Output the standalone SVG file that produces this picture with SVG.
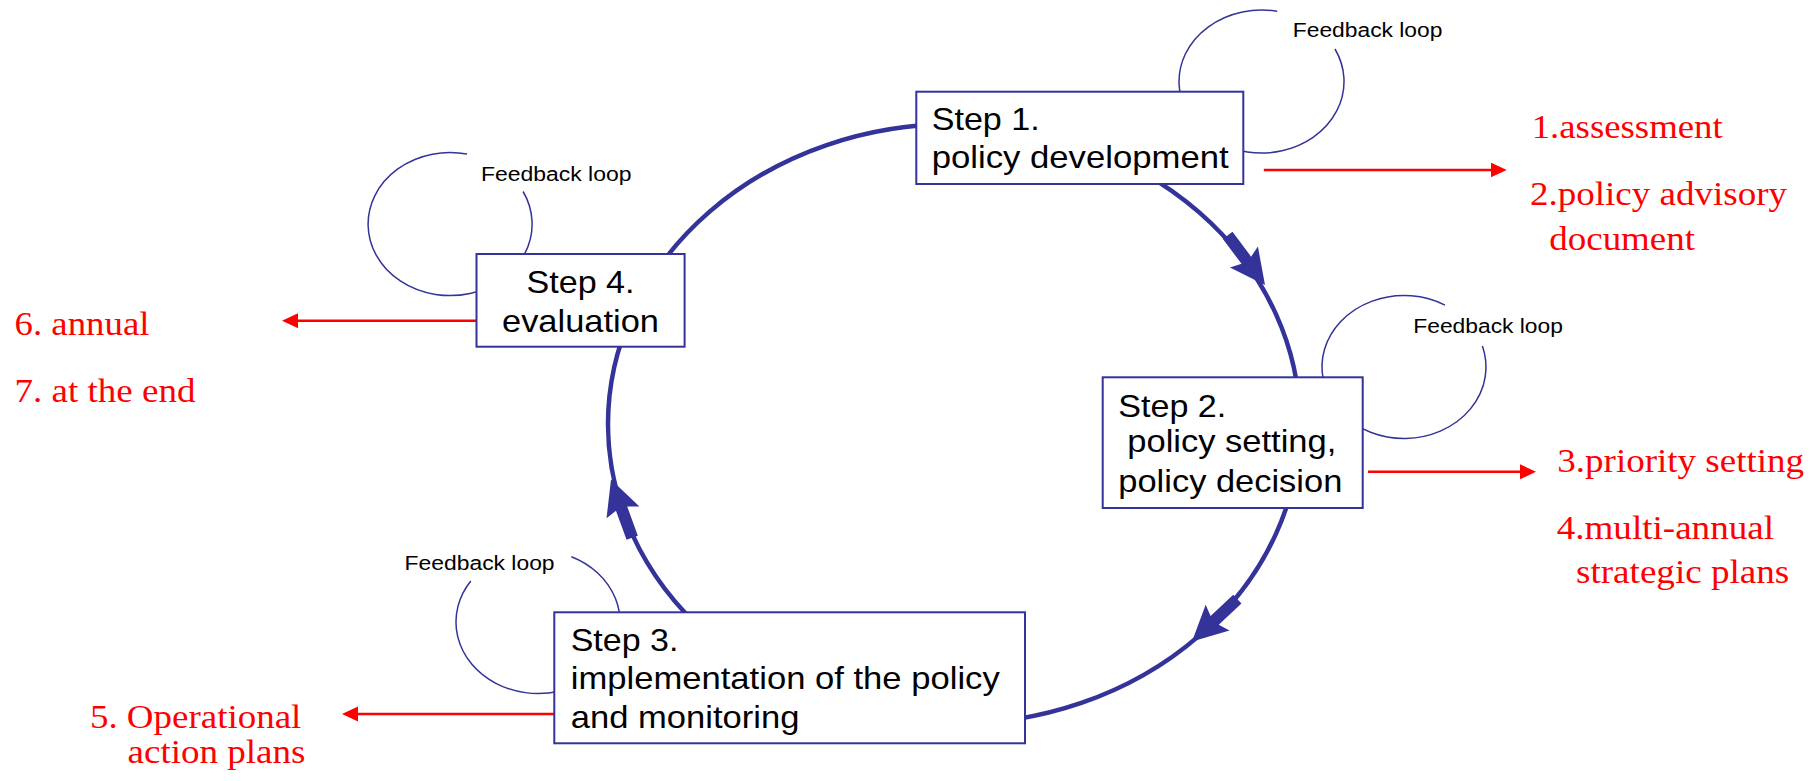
<svg xmlns="http://www.w3.org/2000/svg" xmlns:xlink="http://www.w3.org/1999/xlink" width="1818" height="781" viewBox="0 0 1818 781">
<style>
.box{fill:#ffffff;stroke:#333399;stroke-width:2}
.lbl{font-family:"Liberation Sans",Arial,sans-serif;font-size:32px;fill:#000000}
.fb{font-family:"Liberation Sans",Arial,sans-serif;font-size:20px;fill:#000000}
.red{font-family:"Liberation Serif","Times New Roman",serif;font-size:34px;fill:#ff0000}
.cycle{fill:none;stroke:#333399;stroke-width:4.5}
.loop{fill:none;stroke:#333399;stroke-width:1.5}
.out{fill:none;stroke:#ff0000;stroke-width:2.5;marker-end:url(#redHead)}
</style>
<defs>
<marker id="redHead" markerUnits="userSpaceOnUse" markerWidth="18" markerHeight="16" refX="4" refY="7.5" orient="auto"><path d="M0,0 L16,7.5 L0,15 Z" fill="#ff0000"/></marker>
<path id="bigHead" d="M0,0 L-35,-17.5 L-31,-6 L-62,-6 L-62,6 L-31,6 L-35,17.5 Z" fill="#333399"/>
</defs>
<g id="connectors">
<ellipse class="cycle" cx="954" cy="424" rx="346" ry="300"/>
<use xlink:href="#bigHead" transform="translate(1265,285) rotate(53)"/>
<use xlink:href="#bigHead" transform="translate(1192,641.5) rotate(137)"/>
<use xlink:href="#bigHead" transform="translate(611,479.5) rotate(-110)"/>
<path class="loop" d="M1335,49 A82.5,71.5 0 1 1 1277.2,11.3"/>
<path class="loop" d="M1482.4,346.1 A82,71.5 0 1 1 1445,305.1"/>
<path class="loop" d="M571.4,556.7 A82,71.5 0 1 1 470.8,581"/>
<path class="loop" d="M523.1,191.5 A82,71.5 0 1 1 467,154.1"/>
<line class="out" x1="1263.8" y1="170" x2="1494.7" y2="170"/>
<line class="out" x1="1368" y1="471.8" x2="1524" y2="471.8"/>
<line class="out" x1="478" y1="320.7" x2="294" y2="320.7"/>
<line class="out" x1="554" y1="714" x2="354" y2="714"/>
</g>
<g id="feedback-labels">
<text class="fb" x="1292.8" y="36.7" textLength="149.6" lengthAdjust="spacingAndGlyphs">Feedback loop</text>
<text class="fb" x="1413.3" y="333.3" textLength="149.6" lengthAdjust="spacingAndGlyphs">Feedback loop</text>
<text class="fb" x="404.6" y="570" textLength="150" lengthAdjust="spacingAndGlyphs">Feedback loop</text>
<text class="fb" x="481" y="180.5" textLength="150.5" lengthAdjust="spacingAndGlyphs">Feedback loop</text>
</g>
<g id="step1">
<rect class="box" x="916.3" y="91.7" width="327" height="92.3"/>
<text class="lbl" x="931.7" y="130" textLength="108" lengthAdjust="spacingAndGlyphs">Step 1.</text>
<text class="lbl" x="931.7" y="168.3" textLength="297" lengthAdjust="spacingAndGlyphs">policy development</text>
</g>
<g id="step2">
<rect class="box" x="1102.7" y="377.3" width="260" height="130.7"/>
<text class="lbl" x="1118.3" y="416.7" textLength="108" lengthAdjust="spacingAndGlyphs">Step 2.</text>
<text class="lbl" x="1127.3" y="451.7" textLength="209" lengthAdjust="spacingAndGlyphs">policy setting,</text>
<text class="lbl" x="1118.3" y="491.7" textLength="224" lengthAdjust="spacingAndGlyphs">policy decision</text>
</g>
<g id="step3">
<rect class="box" x="554.3" y="612.3" width="470.7" height="131"/>
<text class="lbl" x="570.7" y="650.7" textLength="107.7" lengthAdjust="spacingAndGlyphs">Step 3.</text>
<text class="lbl" x="570.7" y="689.3" textLength="429" lengthAdjust="spacingAndGlyphs">implementation of the policy</text>
<text class="lbl" x="570.7" y="728.3" textLength="228.7" lengthAdjust="spacingAndGlyphs">and monitoring</text>
</g>
<g id="step4">
<rect class="box" x="476.5" y="254" width="208.1" height="92.7"/>
<text class="lbl" x="580.5" y="293.3" text-anchor="middle" textLength="108" lengthAdjust="spacingAndGlyphs">Step 4.</text>
<text class="lbl" x="580.5" y="331.7" text-anchor="middle" textLength="157" lengthAdjust="spacingAndGlyphs">evaluation</text>
</g>
<g id="outputs">
<text class="red" x="1531.7" y="138.3" textLength="191" lengthAdjust="spacingAndGlyphs">1.assessment</text>
<text class="red" x="1530" y="205" textLength="257" lengthAdjust="spacingAndGlyphs">2.policy advisory</text>
<text class="red" x="1549.3" y="250" textLength="145.7" lengthAdjust="spacingAndGlyphs">document</text>
<text class="red" x="1557.3" y="472.3" textLength="246.7" lengthAdjust="spacingAndGlyphs">3.priority setting</text>
<text class="red" x="1556.7" y="539" textLength="217.3" lengthAdjust="spacingAndGlyphs">4.multi-annual</text>
<text class="red" x="1576" y="583.3" textLength="213.3" lengthAdjust="spacingAndGlyphs">strategic plans</text>
<text class="red" x="14.5" y="335" textLength="135" lengthAdjust="spacingAndGlyphs">6. annual</text>
<text class="red" x="14.5" y="401.7" textLength="181" lengthAdjust="spacingAndGlyphs">7. at the end</text>
<text class="red" x="89.9" y="728.3" textLength="211.5" lengthAdjust="spacingAndGlyphs">5. Operational</text>
<text class="red" x="127.5" y="763.3" textLength="178" lengthAdjust="spacingAndGlyphs">action plans</text>
</g>
</svg>
